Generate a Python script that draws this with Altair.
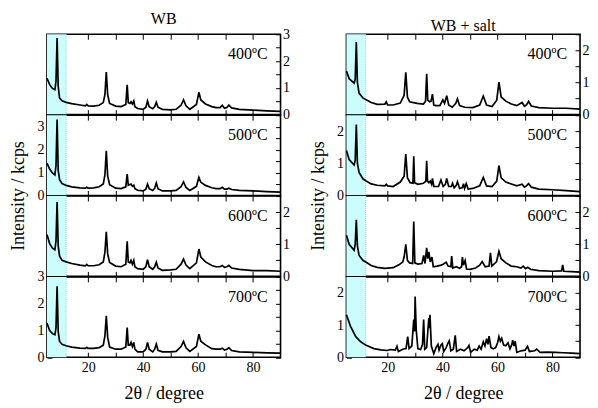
import altair as alt
import pandas as pd

FONT = "Liberation Serif"
X_DOMAIN = [5, 90]
BAND = [5, 12]
X_TICKS = [10, 20, 30, 40, 50, 60, 70, 80]
TEMPS = ["400ºC", "500ºC", "600ºC", "700ºC"]
WB_YMAX = [3, 3.5, 2.5, 3]
SALT_YMAX = [2.5, 2.5, 2.5, 2.5]
WB_YSIDE = ["right", "left", "right", "left"]

# WB series (2theta, intensity in kcps)
WB_X = [5, 6, 7, 7.9, 8.3, 8.7, 9.1, 9.6, 10.5, 12, 14, 17, 19, 19.5, 20, 22, 24, 25.5,
        26.1, 26.6, 27.1, 27.8, 30, 32, 33.7, 34.2, 34.6, 35.2, 35.6, 36.1, 36.6, 37.0,
        38, 40, 41.0, 41.6, 42.2, 43.5, 44.2, 44.8, 45.4, 47, 50, 52, 53.8, 54.7, 55.6,
        57, 59.4, 60.3, 61.0, 62.7, 65, 66.5, 68.0, 68.8, 69.6, 70.5, 71.2, 72.2, 75,
        80, 85, 90]
WB_400 = [1.36, 1.12, 0.98, 0.93, 1.25, 2.86, 1.05, 0.62, 0.52, 0.46, 0.41, 0.36, 0.33,
          0.38, 0.33, 0.32, 0.35, 0.45, 0.75, 1.59, 0.75, 0.42, 0.32, 0.30, 0.38, 1.11,
          0.45, 0.42, 0.48, 0.40, 0.51, 0.30, 0.23, 0.20, 0.28, 0.51, 0.30, 0.22, 0.30,
          0.46, 0.28, 0.20, 0.18, 0.20, 0.35, 0.55, 0.33, 0.20, 0.38, 0.84, 0.55, 0.40,
          0.30, 0.26, 0.26, 0.35, 0.24, 0.27, 0.36, 0.25, 0.20, 0.17, 0.14, 0.12]
WB_500 = [1.41, 1.15, 0.98, 0.90, 1.30, 3.31, 1.10, 0.69, 0.52, 0.44, 0.38, 0.33, 0.32,
          0.36, 0.32, 0.33, 0.38, 0.50, 0.90, 1.95, 0.85, 0.47, 0.32, 0.30, 0.38, 0.93,
          0.45, 0.48, 0.50, 0.40, 0.45, 0.30, 0.23, 0.20, 0.28, 0.50, 0.30, 0.22, 0.32,
          0.55, 0.30, 0.20, 0.20, 0.22, 0.38, 0.59, 0.35, 0.22, 0.40, 0.79, 0.58, 0.44,
          0.34, 0.30, 0.30, 0.36, 0.28, 0.28, 0.32, 0.26, 0.22, 0.20, 0.17, 0.15]
WB_600 = [1.30, 1.02, 0.88, 0.83, 1.10, 2.31, 0.95, 0.63, 0.50, 0.45, 0.40, 0.35, 0.33,
          0.37, 0.33, 0.33, 0.36, 0.45, 0.75, 1.39, 0.70, 0.43, 0.32, 0.30, 0.38, 1.09,
          0.45, 0.42, 0.50, 0.38, 0.50, 0.30, 0.24, 0.22, 0.30, 0.52, 0.30, 0.22, 0.30,
          0.44, 0.26, 0.19, 0.20, 0.22, 0.38, 0.54, 0.35, 0.24, 0.42, 0.85, 0.60, 0.45,
          0.34, 0.30, 0.30, 0.34, 0.28, 0.30, 0.34, 0.26, 0.22, 0.18, 0.18, 0.16]
WB_700 = [1.28, 1.00, 0.88, 0.84, 1.10, 2.65, 0.95, 0.59, 0.48, 0.43, 0.38, 0.34, 0.33,
          0.37, 0.33, 0.33, 0.36, 0.45, 0.80, 1.55, 0.75, 0.38, 0.30, 0.30, 0.38, 1.11,
          0.45, 0.45, 0.55, 0.40, 0.55, 0.30, 0.20, 0.20, 0.30, 0.55, 0.30, 0.20, 0.30,
          0.49, 0.26, 0.20, 0.20, 0.22, 0.40, 0.59, 0.35, 0.22, 0.40, 0.86, 0.60, 0.46,
          0.32, 0.30, 0.30, 0.34, 0.27, 0.30, 0.36, 0.25, 0.20, 0.18, 0.16, 0.15]

# WB + salt series, (2theta, intensity) pairs
SALT_400 = [(5, 1.36), (6, 1.12), (7.8, 0.98), (8.2, 1.1), (8.6, 2.26), (9.0, 1.0), (9.6, 0.67),
            (11, 0.52), (12.2, 0.46), (14, 0.38), (16.2, 0.32), (19, 0.33), (19.5, 0.4), (20, 0.3),
            (22, 0.3), (24.6, 0.36), (26.0, 0.6), (26.6, 1.32), (27.2, 0.55), (28, 0.4), (30.7, 0.35),
            (33, 0.33), (33.8, 0.42), (34.2, 1.27), (34.6, 0.45), (35.3, 0.4), (35.8, 0.42),
            (36.3, 0.64), (36.8, 0.3), (37.5, 0.28), (39, 0.28), (40.1, 0.46), (40.7, 0.35),
            (41.5, 0.59), (42.2, 0.3), (43.5, 0.23), (44.8, 0.35), (45.4, 0.49), (46.2, 0.28),
            (48, 0.23), (51, 0.22), (53.5, 0.3), (54.8, 0.58), (56, 0.3), (58, 0.25), (59.7, 0.45),
            (60.5, 1.01), (61.3, 0.55), (63, 0.42), (65, 0.33), (67, 0.28), (68.9, 0.38),
            (69.8, 0.26), (70.5, 0.3), (71.3, 0.41), (72.3, 0.27), (75, 0.22), (80, 0.2),
            (85, 0.2), (90, 0.17)]
SALT_500 = [(5, 1.4), (6, 1.12), (7.8, 0.95), (8.2, 1.1), (8.6, 2.21), (9.0, 1.0), (9.6, 0.72),
            (11, 0.52), (12.2, 0.45), (14, 0.36), (16.2, 0.32), (19, 0.3), (19.5, 0.35), (20, 0.3),
            (22, 0.28), (24.6, 0.42), (26.0, 0.6), (26.6, 1.29), (27.2, 0.55), (28.2, 0.4),
            (29.2, 0.38), (29.5, 1.22), (29.8, 0.4), (31, 0.35), (33, 0.38), (33.9, 0.45),
            (34.2, 1.08), (34.5, 0.45), (35.0, 0.4), (35.5, 0.45), (36.0, 0.35), (36.3, 0.53),
            (36.8, 0.28), (38.5, 0.28), (39.4, 0.48), (40.2, 0.28), (41.0, 0.35), (41.5, 0.53),
            (42.2, 0.28), (43.2, 0.28), (43.6, 0.38), (44.2, 0.24), (45.0, 0.32), (45.4, 0.43),
            (46.2, 0.22), (47.2, 0.25), (47.6, 0.37), (48.0, 0.22), (48.6, 0.37), (49.3, 0.2),
            (51, 0.22), (53.5, 0.3), (54.8, 0.56), (56, 0.3), (58, 0.28), (59.7, 0.45),
            (60.5, 0.93), (61.3, 0.55), (63, 0.42), (65, 0.36), (67, 0.3), (68.9, 0.35),
            (69.8, 0.26), (70.5, 0.3), (71.3, 0.37), (72.3, 0.26), (75, 0.2), (80, 0.18),
            (85, 0.15), (90, 0.12)]
SALT_600 = [(5, 1.28), (6, 1.0), (7.8, 0.81), (8.2, 1.0), (8.6, 1.76), (9.0, 0.95), (9.6, 0.65),
            (11, 0.5), (12.2, 0.44), (14, 0.34), (16.2, 0.28), (19, 0.25), (22, 0.27), (24.1, 0.36),
            (25.5, 0.45), (26.0, 0.6), (26.6, 1.0), (27.2, 0.5), (28.0, 0.42), (29.1, 0.4),
            (29.5, 1.71), (29.9, 0.42), (31, 0.38), (32.5, 0.4), (33.1, 0.65), (33.6, 0.4),
            (34.2, 0.89), (34.6, 0.55), (35.0, 0.76), (35.5, 0.45), (36.1, 0.6), (36.6, 0.3),
            (38, 0.32), (39.5, 0.35), (40.2, 0.38), (41.3, 0.44), (42.0, 0.32), (43.0, 0.3),
            (43.3, 0.63), (43.7, 0.26), (45, 0.3), (46.2, 0.25), (46.9, 0.3), (47.2, 0.6),
            (47.6, 0.35), (48.2, 0.49), (48.7, 0.23), (50, 0.22), (52, 0.26), (53.5, 0.35),
            (54.4, 0.46), (55.5, 0.3), (56.9, 0.32), (57.4, 0.73), (57.9, 0.32), (59.6, 0.45),
            (60.5, 0.78), (61.3, 0.55), (63, 0.42), (65, 0.32), (67, 0.3), (68.5, 0.26),
            (69.3, 0.32), (70.2, 0.24), (71.0, 0.28), (72, 0.22), (75, 0.18), (80, 0.16),
            (83.3, 0.17), (83.7, 0.36), (84.1, 0.16), (87, 0.15), (90, 0.13)]
SALT_700 = [(5, 1.32), (6.5, 0.96), (8.4, 0.64), (10.2, 0.48), (12.2, 0.37), (15, 0.27),
            (17.5, 0.23), (19.8, 0.21), (21, 0.24), (22.8, 0.22), (23.4, 0.34), (23.9, 0.18),
            (25.5, 0.25), (26.7, 0.27), (27.3, 0.64), (27.8, 0.27), (28.8, 0.35), (29.5, 1.17),
            (29.8, 0.8), (30.0, 1.89), (30.4, 0.85), (31, 0.27), (32, 0.24), (32.7, 0.4),
            (33.1, 1.17), (33.5, 0.25), (34.2, 0.3), (34.7, 0.9), (35.0, 1.22), (35.2, 0.9),
            (35.4, 1.32), (35.9, 0.35), (36.8, 0.11), (37.6, 0.3), (38.3, 0.4), (38.7, 0.22),
            (39.4, 0.38), (39.9, 0.42), (40.4, 0.18), (41.3, 0.3), (42.0, 0.45), (42.4, 0.51),
            (43.0, 0.2), (43.9, 0.25), (44.6, 0.68), (45.1, 0.18), (46.5, 0.25), (47.8, 0.2),
            (49.1, 0.3), (49.6, 0.37), (50.2, 0.15), (51.5, 0.25), (52.6, 0.22), (53.3, 0.35),
            (54.0, 0.25), (54.8, 0.48), (55.4, 0.35), (56.0, 0.58), (56.5, 0.4), (56.9, 0.66),
            (57.6, 0.3), (58.5, 0.26), (59.3, 0.3), (60.0, 0.45), (60.5, 0.64), (61.0, 0.5),
            (61.5, 0.59), (62.2, 0.38), (63.0, 0.36), (63.8, 0.45), (64.5, 0.26), (65.2, 0.4),
            (65.5, 0.53), (66.0, 0.35), (66.4, 0.5), (67.0, 0.15), (68.5, 0.2), (70.0, 0.22),
            (70.9, 0.34), (71.6, 0.18), (73.5, 0.2), (74.2, 0.25), (75.5, 0.15), (78, 0.16),
            (81, 0.15), (84, 0.14), (87, 0.13), (90, 0.11)]

W, H = 234, 80.5


def yticks(ymax):
    return [i * 0.5 for i in range(int(ymax * 2) + 1)]


def panel(df, label, ymax, yside, bottom, title=None, ytitle=False):
    other = "left" if yside == "right" else "right"
    xs = alt.Scale(domain=X_DOMAIN, nice=False, zero=False)
    ys = alt.Scale(domain=[0, ymax], nice=False, zero=True)

    xkw = dict(orient="bottom", values=X_TICKS, offset=-5, tickSize=5, domain=False,
               grid=False, labels=bottom, labelPadding=3, labelFont=FONT, labelFontSize=14,
               labelExpr="datum.value % 20 == 0 ? format(datum.value, 'd') : ''")
    if bottom:
        xkw.update(title="2θ / degree", titleFont=FONT, titleFontSize=18,
                   titleFontWeight="normal", titlePadding=10)
    ykw = dict(orient=yside, values=yticks(ymax), offset=-5, tickSize=5, domain=False,
               grid=False, labelPadding=3 if yside == "left" else 2, labelFont=FONT,
               labelFontSize=14,
               labelExpr="datum.value % 1 == 0 ? format(datum.value, 'd') : ''")
    if ytitle:
        ykw.update(title="Intensity / kcps", titleFont=FONT, titleFontSize=18,
                   titleFontWeight="normal", titleY=H, titlePadding=9)

    band_df = pd.DataFrame({"x0": [BAND[0]], "x1": [BAND[1]]})
    band = alt.Chart(band_df).mark_rect(color="#ccfdfd").encode(
        x=alt.X("x0:Q", scale=xs, axis=None), x2="x1:Q")
    edge = alt.Chart(band_df).mark_rule(color="#88e0e0", strokeDash=[1, 1], strokeWidth=1).encode(
        x=alt.X("x1:Q", scale=xs, axis=None))

    line = alt.Chart(df).mark_line(color="black", strokeWidth=1.7, interpolate="linear").encode(
        x=alt.X("x:Q", scale=xs, axis=alt.Axis(**xkw), title="2θ / degree" if bottom else None),
        y=alt.Y("y:Q", scale=ys, axis=alt.Axis(**ykw), title="Intensity / kcps" if ytitle else None),
    )
    ghost = alt.Chart(df).mark_line(opacity=0).encode(
        x=alt.X("x:Q", scale=xs, title=None,
                axis=alt.Axis(orient="top", values=X_TICKS, offset=-5, tickSize=5,
                              domain=False, grid=False, labels=False)),
        y=alt.Y("y:Q", scale=ys, title=None,
                axis=alt.Axis(orient=other, values=yticks(ymax), offset=-5, tickSize=5,
                              domain=False, grid=False, labels=False)),
    )
    text = alt.Chart(pd.DataFrame({"t": [label]})).mark_text(
        align="right", baseline="alphabetic", font=FONT, fontSize=16, color="black"
    ).encode(x=alt.value(W - 13), y=alt.value(25), text="t:N")

    ch = alt.layer(band, edge, line, ghost, text).resolve_axis(x="independent", y="independent")
    props = dict(width=W, height=H)
    if title:
        props["title"] = alt.Title(title, font=FONT, fontSize=16, fontWeight="normal",
                                   color="black", offset=0, anchor="middle")
    return ch.properties(**props)


wb_series = [WB_400, WB_500, WB_600, WB_700]
salt_series = [SALT_400, SALT_500, SALT_600, SALT_700]
panels = []
for i in range(4):
    wdf = pd.DataFrame({"x": WB_X, "y": wb_series[i]})
    sdf = pd.DataFrame(salt_series[i], columns=["x", "y"])
    panels.append(panel(wdf, TEMPS[i], WB_YMAX[i], WB_YSIDE[i], i == 3,
                        title="WB" if i == 0 else None, ytitle=(i == 1)))
    panels.append(panel(sdf, TEMPS[i], SALT_YMAX[i], WB_YSIDE[i], i == 3,
                        title="WB + salt" if i == 0 else None, ytitle=(i == 1)))

chart = alt.concat(*panels, columns=2, spacing={"row": 0, "column": 66}, bounds="flush").properties(
    padding={"left": 1, "top": 2, "right": 0, "bottom": 0}
).configure(font=FONT).configure_view(stroke="black", strokeWidth=1.6).configure_axis(
    labelFont=FONT, titleFont=FONT, labelFontSize=14, labelColor="black", tickColor="black",
    tickWidth=1, titleColor="black"
).configure_title(font=FONT)

chart.save("out.html", embed_options={"renderer": "svg", "actions": False})
